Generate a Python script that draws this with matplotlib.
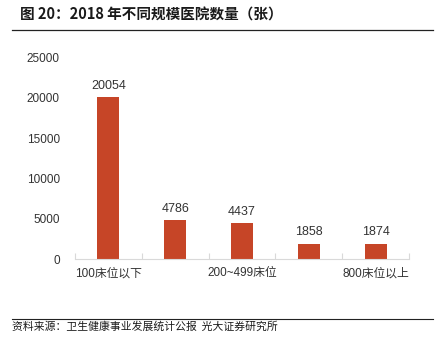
import matplotlib
matplotlib.use("Agg")
import matplotlib.pyplot as plt
from matplotlib.lines import Line2D

plt.rcParams['font.family'] = ['Noto Sans CJK SC', 'DejaVu Sans']
num_font = ['Liberation Sans', 'Noto Sans CJK SC']

# data
categories = ['100床位以下', '100~199床位', '200~499床位', '500~799床位', '800床位以上']
hospitals = [20054, 4786, 4437, 1858, 1874]
shown_labels = ['100床位以下', '', '200~499床位', '', '800床位以上']
y_ticks = [0, 5000, 10000, 15000, 20000, 25000]

bar_color = '#C64527'
text_color = '#333333'
W, H = 447, 339

fig = plt.figure(figsize=(W / 100, H / 100), dpi=100)
fig.patch.set_facecolor('white')

# title + rule
fig.text(20 / W, 1 - 15 / H, '图 20：2018 年不同规模医院数量（张）',
         fontsize=10.5, fontweight='bold', color='#1a1a1a', va='center', ha='left')
fig.add_artist(Line2D([12 / W, 433 / W], [1 - 30 / H, 1 - 30 / H],
                      transform=fig.transFigure, color='#222222', lw=0.9))

# footer + rule
fig.add_artist(Line2D([12 / W, 433 / W], [1 - 319 / H, 1 - 319 / H],
                      transform=fig.transFigure, color='#222222', lw=0.8))
fig.text(12 / W, 1 - 327 / H, '资料来源：卫生健康事业发展统计公报  光大证券研究所',
         fontsize=7.8, color='#1a1a1a', va='center', ha='left')

ax = fig.add_axes([75 / W, 80 / H, 334 / W, 201.6 / H])
x = list(range(len(categories)))
ax.bar(x, hospitals, width=0.33, color=bar_color, zorder=2)

for xi, v in zip(x, hospitals):
    ax.annotate(str(v), (xi, v), xytext=(0, 4), textcoords='offset points',
                ha='center', va='bottom', fontsize=9, color=text_color,
                family=num_font)

ax.set_xlim(-0.5, len(categories) - 0.5)
ax.set_ylim(0, 25000)
ax.set_yticks(y_ticks)
ax.set_yticklabels([str(t) for t in y_ticks], fontsize=8.5, color=text_color,
                   family=num_font)
ax.tick_params(axis='y', length=0, pad=11)

# category boundaries as ticks, labels centered in between
ax.set_xticks([i - 0.5 for i in range(len(categories) + 1)])
ax.set_xticklabels([])
ax.set_xticks(x, minor=True)
ax.set_xticklabels(shown_labels, minor=True, fontsize=8.5, color=text_color,
                   family=num_font)
ax.tick_params(axis='x', which='major', direction='in', length=4, color='#d9d9d9')
ax.tick_params(axis='x', which='minor', length=0, pad=6)

for side in ['top', 'right', 'left']:
    ax.spines[side].set_visible(False)
ax.spines['bottom'].set_color('#d9d9d9')

fig.savefig('out.png', dpi=100)
